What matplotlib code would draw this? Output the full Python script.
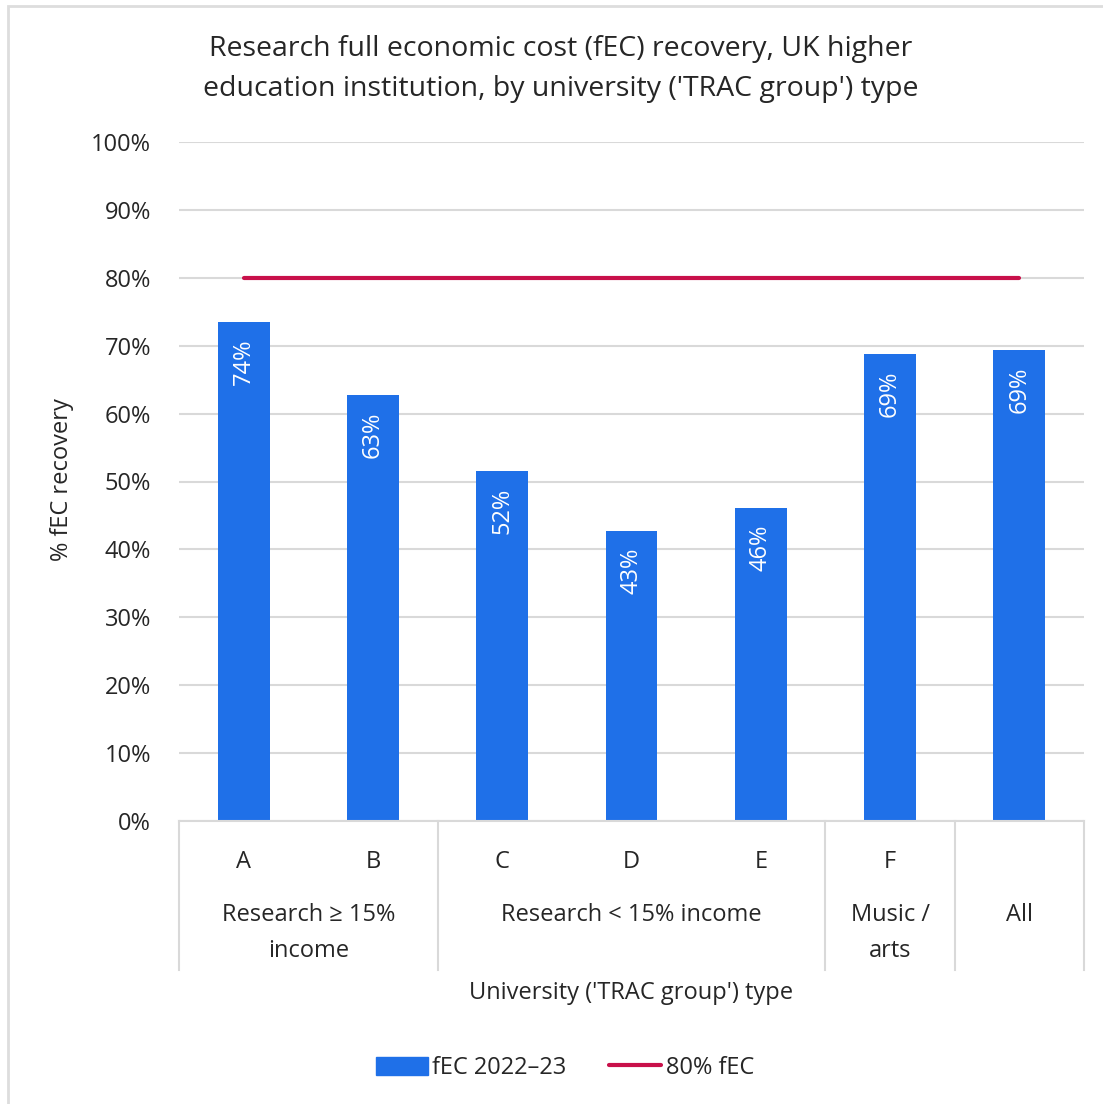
import matplotlib.pyplot as plt
from matplotlib.lines import Line2D
from matplotlib.patches import Patch, Rectangle
import numpy as np

plt.rcParams["font.family"] = ["Open Sans", "DejaVu Sans"]

categories = ["A", "B", "C", "D", "E", "F", "All"]
tick_labels = ["A", "B", "C", "D", "E", "F", ""]
fec_2022_23 = [0.735, 0.627, 0.515, 0.427, 0.461, 0.688, 0.694]
target = [0.80] * len(categories)
groups = ["Research \u2265 15%\nincome", "Research < 15% income", "Music /\narts", "All"]
group_sizes = [2, 3, 1, 1]

BLUE = "#1f70e8"
RED = "#c8104a"
GRID = "#d9d9d9"
TEXT = "#262626"
FS = 17

fig = plt.figure(figsize=(11.03, 11.04), dpi=100)
fig.patches.append(Rectangle((8 / 1103, -0.01), 1.1, 1 - 6 / 1104 + 0.01,
                             transform=fig.transFigure, fill=False,
                             edgecolor="#dddddd", linewidth=2))
ax = fig.add_axes([179 / 1103, 1 - 821 / 1104, (1084 - 179) / 1103, (821 - 142) / 1104])

x = np.arange(len(categories))
ax.bar(x, fec_2022_23, width=0.4, color=BLUE, zorder=2)
ax.plot(x, target, color=RED, linewidth=3, solid_capstyle="round", zorder=3)

for xi, v in zip(x, fec_2022_23):
    ax.annotate(f"{v:.0%}", (xi, v), xytext=(0, -12), textcoords="offset points",
                rotation=90, ha="center", va="top", color="white", fontsize=FS)

ax.set_xlim(-0.5, len(categories) - 0.5)
ax.set_ylim(0, 1.0)
ax.set_yticks(np.arange(0, 1.01, 0.1))
ax.set_yticklabels([f"{t:.0%}" for t in np.arange(0, 1.01, 0.1)])
ax.tick_params(axis="y", length=0, pad=20, labelsize=FS, labelcolor=TEXT)
ax.set_xticks(x)
ax.set_xticklabels(tick_labels)
ax.tick_params(axis="x", length=0, pad=21, labelsize=FS, labelcolor=TEXT)
ax.grid(axis="y", color=GRID, linewidth=1.5, zorder=0)
ax.set_axisbelow(True)
for side in ["top", "right", "left"]:
    ax.spines[side].set_visible(False)
ax.spines["bottom"].set_color(GRID)
ax.spines["bottom"].set_linewidth(1.5)

# group separators and labels below the axis
bottom = -(970 - 821) / 679
edges = np.concatenate([[0], np.cumsum(group_sizes)]) - 0.5
trans = ax.get_xaxis_transform()
for e in edges:
    ax.plot([e, e], [0, bottom], color=GRID, linewidth=1.5, transform=trans, clip_on=False)
for g, a, b in zip(groups, edges[:-1], edges[1:]):
    ax.text((a + b) / 2, -(903 - 821) / 679, g, transform=trans, ha="center", va="top",
            fontsize=FS, color=TEXT, linespacing=1.68)

fig.text(0.508, 1 - 69 / 1104, "Research full economic cost (fEC) recovery, UK higher\n"
         "education institution, by university ('TRAC group') type",
         ha="center", va="center", fontsize=20.5, color=TEXT, linespacing=1.58)
fig.text(631 / 1103, 1 - 993 / 1104, "University ('TRAC group') type", ha="center", va="center",
         fontsize=FS, color=TEXT)
fig.text(62 / 1103, 1 - 480 / 1104, "% fEC recovery", rotation=90, ha="center", va="center",
         fontsize=FS, color=TEXT)

handles = [Patch(color=BLUE, label="fEC 2022\u201323"),
           Line2D([], [], color=RED, linewidth=3, solid_capstyle="round", label="80% fEC")]
fig.legend(handles=handles, loc="center", bbox_to_anchor=(0.512, 1 - 1068 / 1104), ncol=2,
           frameon=False, fontsize=FS, handlelength=2.2, handleheight=0.8,
           handletextpad=0.2, columnspacing=1.8, labelcolor=TEXT)

fig.savefig("out.png", dpi=100)
